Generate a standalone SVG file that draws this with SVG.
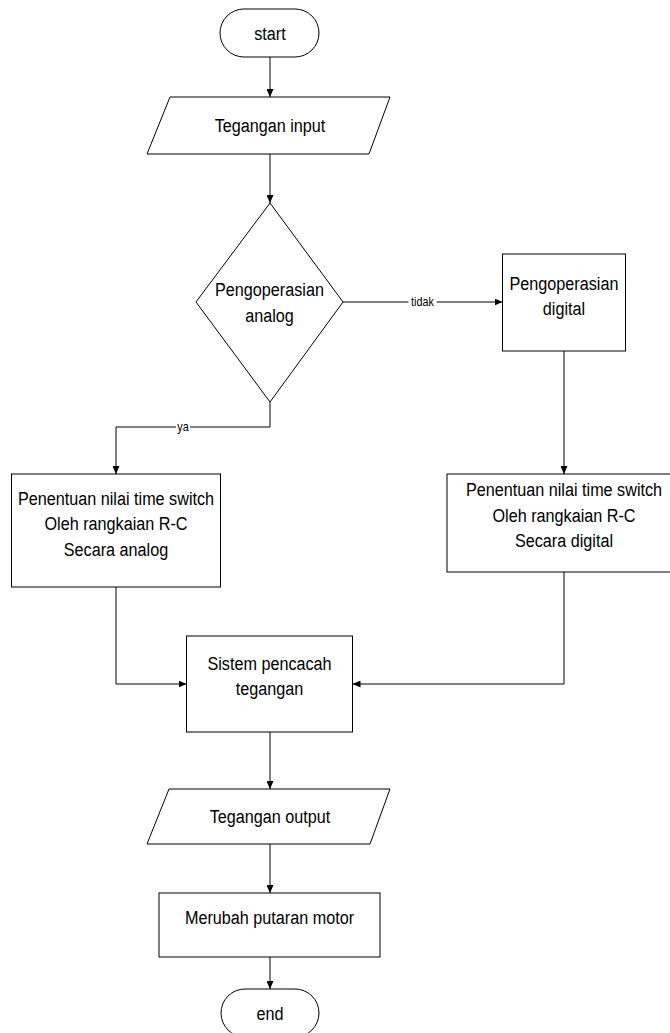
<svg xmlns="http://www.w3.org/2000/svg" width="670" height="1033" viewBox="0 0 670 1033">
<style>
.shape{fill:#fff;stroke:#000;stroke-width:1}
.t{font-family:"Liberation Sans",Arial,sans-serif;font-size:19px;fill:#000;text-anchor:middle}
.lbl{font-family:"Liberation Sans",Arial,sans-serif;font-size:12px;fill:#000;text-anchor:middle}
.conn{fill:none;stroke:#000;stroke-width:1}
</style>
<defs>
<marker id="arr" markerWidth="8" markerHeight="7" refX="8" refY="3.5" orient="auto" markerUnits="userSpaceOnUse">
<path d="M0,0 L8,3.5 L0,7 z" fill="#000"/>
</marker>
</defs>
<rect width="670" height="1033" fill="#fff"/>
<g id="connectors">
<path class="conn" d="M270,57 V97" marker-end="url(#arr)"/>
<path class="conn" d="M270,154 V203" marker-end="url(#arr)"/>
<path class="conn" d="M343,302 H502.5" marker-end="url(#arr)"/>
<path class="conn" d="M270,402 V427 H116 V474" marker-end="url(#arr)"/>
<path class="conn" d="M564,351 V474" marker-end="url(#arr)"/>
<path class="conn" d="M116,587 V684 H186.5" marker-end="url(#arr)"/>
<path class="conn" d="M564,572 V684 H352.5" marker-end="url(#arr)"/>
<path class="conn" d="M270,732 V789" marker-end="url(#arr)"/>
<path class="conn" d="M270,844 V893" marker-end="url(#arr)"/>
<path class="conn" d="M270,957 V989" marker-end="url(#arr)"/>
<rect x="408.5" y="296" width="28" height="12" fill="#fff"/>
<text class="lbl" transform="translate(422.5 306) scale(0.9 1)">tidak</text>
<rect x="176" y="421" width="14" height="12" fill="#fff"/>
<text class="lbl" transform="translate(183 430.5) scale(0.9 1)">ya</text>
</g>
<g id="start">
<rect class="shape" x="220" y="9" width="99" height="48" rx="24" ry="24"/>
<text class="t" transform="translate(270 40) scale(0.853 1)">start</text>
</g>
<g id="input">
<polygon class="shape" points="170,97 390,97 369,154 147,154"/>
<text class="t" transform="translate(270 132) scale(0.853 1)">Tegangan input</text>
</g>
<g id="decision">
<polygon class="shape" points="270,203 343,302 270,402 196,302"/>
<text class="t" transform="translate(269.5 296) scale(0.853 1)">Pengoperasian</text>
<text class="t" transform="translate(269.5 322) scale(0.853 1)">analog</text>
</g>
<g id="digital">
<rect class="shape" x="502.5" y="254" width="123" height="97"/>
<text class="t" transform="translate(564 289.5) scale(0.853 1)">Pengoperasian</text>
<text class="t" transform="translate(564 314.5) scale(0.853 1)">digital</text>
</g>
<g id="analog-timer">
<rect class="shape" x="11.5" y="474" width="209" height="113"/>
<text class="t" transform="translate(116 504.5) scale(0.853 1)">Penentuan nilai time switch</text>
<text class="t" transform="translate(116 530) scale(0.853 1)">Oleh rangkaian R-C</text>
<text class="t" transform="translate(116 556) scale(0.853 1)">Secara analog</text>
</g>
<g id="digital-timer">
<rect class="shape" x="447" y="474" width="234" height="98"/>
<text class="t" transform="translate(564 496) scale(0.853 1)">Penentuan nilai time switch</text>
<text class="t" transform="translate(564 521.5) scale(0.853 1)">Oleh rangkaian R-C</text>
<text class="t" transform="translate(564 547) scale(0.853 1)">Secara digital</text>
</g>
<g id="counter">
<rect class="shape" x="186.5" y="636" width="166" height="96"/>
<text class="t" transform="translate(269.5 669.5) scale(0.853 1)">Sistem pencacah</text>
<text class="t" transform="translate(269.5 694.5) scale(0.853 1)">tegangan</text>
</g>
<g id="output">
<polygon class="shape" points="169,789 390,789 370,844 147,844"/>
<text class="t" transform="translate(270 823) scale(0.853 1)">Tegangan output</text>
</g>
<g id="motor">
<rect class="shape" x="159" y="893" width="221" height="64"/>
<text class="t" transform="translate(269.5 923.5) scale(0.853 1)">Merubah putaran motor</text>
</g>
<g id="end">
<rect class="shape" x="221" y="989" width="98" height="48" rx="24" ry="24"/>
<text class="t" transform="translate(270 1019.5) scale(0.853 1)">end</text>
</g>
</svg>
